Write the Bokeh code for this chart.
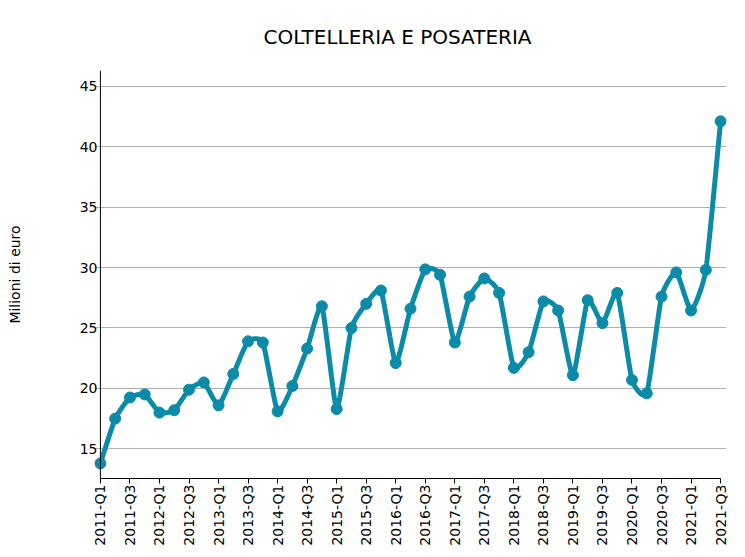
import numpy as np
from bokeh.plotting import figure
from bokeh.models import Range1d, FixedTicker, Span, ColumnDataSource
from bokeh.embed import file_html
from bokeh.resources import INLINE

# ---- data ----
quarters = [f"{y}-Q{q}" for y in range(2011, 2022) for q in range(1, 5)][:43]
values = [13.8, 17.5, 19.25, 19.5, 18.0, 18.2, 19.9, 20.5, 18.6, 21.2, 23.9, 23.8,
          18.1, 20.2, 23.3, 26.8, 18.3, 25.0, 27.0, 28.1, 22.1, 26.6, 29.85, 29.4,
          23.8, 27.6, 29.1, 27.9, 21.7, 23.0, 27.2, 26.45, 21.1, 27.3, 25.4, 27.9,
          20.7, 19.6, 27.6, 29.6, 26.45, 29.8, 42.1]
y_ticks = [15, 20, 25, 30, 35, 40, 45]

TITLE = "COLTELLERIA E POSATERIA"
Y_LABEL = "Milioni di euro"
COLOR = "#0b8ba7"
FONT = "DejaVu Sans"

xs = np.arange(len(values), dtype=float)
ys = np.array(values, dtype=float)

# approximate pixel scales, used only to shape the smoothed drawing path
SX, SY = 14.76, 12.08


def cardinal_curve(x, y, tension=0.5, n=24):
    """Cardinal-spline path through the data points (drawing only)."""
    P = np.column_stack([x * SX, -y * SY])
    k = (1 - tension) / 6
    out = []
    N = len(P)
    for i in range(N - 1):
        p0 = P[i - 1] if i > 0 else P[i]
        p1, p2 = P[i], P[i + 1]
        p3 = P[i + 2] if i + 2 < N else P[i + 1]
        c1 = p1 + k * (p2 - p0)
        c2 = p2 - k * (p3 - p1)
        t = np.linspace(0, 1, n, endpoint=False)[:, None]
        seg = ((1 - t) ** 3) * p1 + 3 * ((1 - t) ** 2) * t * c1 + 3 * (1 - t) * t ** 2 * c2 + t ** 3 * p2
        out.append(seg)
    out.append(P[-1][None, :])
    pts = np.vstack(out)
    return pts[:, 0] / SX, -pts[:, 1] / SY


cx, cy = cardinal_curve(xs, ys)

PAD = 0.4
p = figure(width=745, height=557, output_backend="svg", toolbar_location=None,
           x_range=Range1d(-PAD, len(values) - 1 + PAD), y_range=Range1d(12.55, 46.3),
           min_border_left=94, min_border_right=19, min_border_top=70, min_border_bottom=79)
p.outline_line_color = None
p.background_fill_color = "white"
p.border_fill_color = "white"

# title
p.title.text = TITLE
p.title.text_font = FONT
p.title.text_font_size = "20px"
p.title.text_font_style = "normal"
p.title.text_color = "black"
p.title.align = "left"
p.title.offset = 169
p.title.standoff = 43

# line and markers
p.line(cx, cy, line_color=COLOR, line_width=5)
src = ColumnDataSource(dict(x=xs, y=ys, q=quarters))
p.scatter("x", "y", source=src, size=11, fill_color=COLOR, line_color=COLOR)

# x axis
xa = p.below[0]
xa.ticker = FixedTicker(ticks=list(range(0, len(values), 2)))
xa.major_label_overrides = {i: quarters[i] for i in range(0, len(values), 2)}
xa.major_label_orientation = np.pi / 2
xa.major_label_text_font = FONT
xa.major_label_text_font_size = "14px"
xa.major_label_text_color = "black"
xa.major_label_standoff = 1
xa.major_tick_out = 5
xa.major_tick_in = 0
xa.minor_tick_line_color = None
xa.axis_line_color = "black"
xa.major_tick_line_color = "black"
xa.bounds = (0, len(values) - 1)

# y axis
ya = p.left[0]
ya.ticker = FixedTicker(ticks=y_ticks)
ya.axis_label = Y_LABEL
ya.axis_label_text_font = FONT
ya.axis_label_text_font_size = "14px"
ya.axis_label_text_font_style = "normal"
ya.axis_label_text_color = "black"
ya.axis_label_standoff = 54
ya.major_label_text_font = FONT
ya.major_label_text_font_size = "14px"
ya.major_label_text_color = "black"
ya.major_label_standoff = -3
ya.major_tick_out = 0
ya.major_tick_in = 0
ya.minor_tick_line_color = None
ya.axis_line_color = None
ya.major_tick_line_color = None

p.add_layout(Span(location=0, dimension="height", line_color="black", line_width=1))

p.xgrid.grid_line_color = None
p.ygrid.grid_line_color = "#b0b0b0"
p.ygrid.grid_line_width = 1

open("out.html", "w").write(file_html(p, INLINE))
